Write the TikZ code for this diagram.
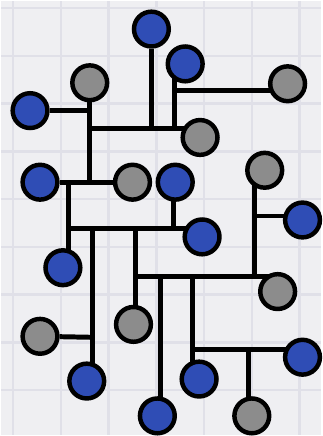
\documentclass[tikz,border=0pt]{standalone}
\usetikzlibrary{backgrounds}
\pgfdeclarelayer{wires}
\pgfsetlayers{background,wires,main}
\definecolor{bg}{HTML}{EFEFF2}
\definecolor{gridc}{HTML}{E0E0E8}
\definecolor{nblue}{HTML}{2F4DB5}
\definecolor{ngrey}{HTML}{8C8C8C}
\tikzset{
  dot/.style={circle,draw=black,line width=4.5pt,minimum size=35pt,inner sep=0pt},
  bdot/.style={dot,fill=nblue},
  gdot/.style={dot,fill=ngrey},
  wire/.style={line width=5pt,black}
}
\begin{document}
\begin{tikzpicture}[x=1pt,y=-1pt]
\begin{pgfonlayer}{background}
\fill[bg] (0,0) rectangle (322,436);
\foreach \gx in {12,60,...,316} \draw[gridc,line width=2.5pt] (\gx,0) -- (\gx,436);
\foreach \gy in {7,55,...,430} \draw[gridc,line width=2.5pt] (0,\gy) -- (322,\gy);
\end{pgfonlayer}
\useasboundingbox (0,0) rectangle (322,436);
% nodes
\node[bdot] (b1) at (151,28) {};
\node[bdot] (b2) at (185,63) {};
\node[gdot] (g1) at (288,83) {};
\node[gdot] (g2) at (89,82) {};
\node[bdot] (b3) at (29,110) {};
\node[gdot] (g3) at (200,137) {};
\node[bdot] (b4) at (39,182) {};
\node[gdot] (g4) at (132,182) {};
\node[bdot] (b5) at (175,182) {};
\node[bdot] (b6) at (202,237) {};
\node[bdot] (b7) at (62,268) {};
\node[gdot] (g5) at (265,170) {};
\node[bdot] (b8) at (303,220) {};
\node[gdot] (g6) at (278,292) {};
\node[gdot] (g7) at (133,325) {};
\node[gdot] (g8) at (39,337) {};
\node[bdot] (b9) at (86,382) {};
\node[bdot] (b10) at (157,417) {};
\node[bdot] (b11) at (199,380) {};
\node[bdot] (b12) at (303,358) {};
\node[gdot] (g9) at (252,417) {};
% junctions
\coordinate (j1) at (89,128);
\coordinate (j2) at (89,182);
\coordinate (j3) at (174,90);
\coordinate (j4) at (68,182);
\coordinate (j5) at (68,229);
\coordinate (j6) at (92,229);
\coordinate (j7) at (135,229);
\coordinate (j8) at (135,277);
\coordinate (j9) at (255,216);
\coordinate (j10) at (160,277);
\coordinate (j11) at (192,277);
\coordinate (j12) at (192,350);
\coordinate (j13) at (249,350);
\coordinate (j14) at (92,338);
\coordinate (j15) at (173,229);
\begin{pgfonlayer}{wires}
\draw[wire] (g2) -- (j2);
\draw[wire] (b3) -- (b3 -| j1);
\draw[wire] (j1) -- (j1 -| g3);
\draw[wire] (b1) -- (b1 |- j1);
\draw[wire] (j1 -| j3) -- (j3 |- b2);
\draw[wire] (j3) -- (j3 -| g1);
\draw[wire] (b4) -- (g4);
\draw[wire] (j4) -- (j4 |- b7);
\draw[wire] (j5) -- (j5 -| b6);
\draw[wire] (j15 |- b5) -- (j15);
\draw[wire] (j6) -- (j6 |- b9);
\draw[wire] (g8) -- (j14);
\draw[wire] (j7) -- (j7 |- g7);
\draw[wire] (j8) -- (j8 -| g6);
\draw[wire] (j9 |- g5) -- (j9 |- j8);
\draw[wire] (j9) -- (j9 -| b8);
\draw[wire] (j10) -- (j10 |- b10);
\draw[wire] (j11) -- (j11 |- b11);
\draw[wire] (j12) -- (j12 -| b12);
\draw[wire] (j13) -- (j13 |- g9);
\end{pgfonlayer}
\end{tikzpicture}
\end{document}
